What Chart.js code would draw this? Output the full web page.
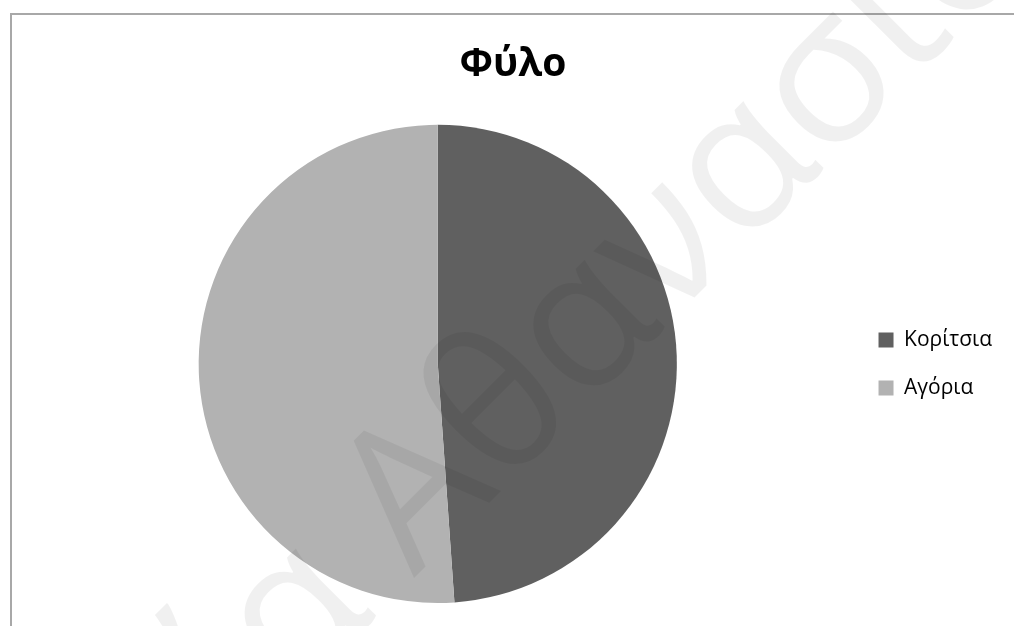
<!DOCTYPE html>
<html>
<head>
<meta charset="utf-8">
<script src="https://cdn.jsdelivr.net/npm/chart.js@4.4.1/dist/chart.umd.min.js"></script>
<style>
	html, body { margin:0; padding:0; background:#fff; overflow:hidden; }
	#frame { position:absolute; left:10px; top:13px; width:1100px; height:700px; border-top:2px solid #a8a8a8; border-left:2px solid #a8a8a8; box-sizing:border-box; }
	#chart { position:absolute; left:0; top:0; }
</style>
</head>
<body>
<div id="frame"></div>
<canvas id="chart" width="1014" height="626"></canvas>
<script>
var labels = ["Κορίτσια", "Αγόρια"];
var values = [22, 23];
var colors = ["#606060", "#b2b2b2"];

//	faint diagonal watermark that sits over the whole picture
var watermark =
	{
		id: 'watermark',
		afterDraw: function(chart)
		{
			var ctx = chart.ctx;
			ctx.save();
			ctx.translate( 414, 578 );
			ctx.rotate( -Math.PI / 4 );
			ctx.font = '195px "Open Sans"';
			ctx.fillStyle = "rgba(0,0,0,0.06)";
			ctx.textBaseline = "alphabetic";
			ctx.textAlign = "left";
			ctx.fillText( "Αθανασίου", 0, 0 );
			ctx.textAlign = "right";
			ctx.fillText( "ία ", 0, 0 );
			ctx.restore();
		}
	};

var chart = new Chart
(
	document.getElementById("chart").getContext("2d"),
	{
		type: "pie",
		data: {
			labels: labels,
			datasets: [ { data: values, backgroundColor: colors, borderWidth: 0 } ]
		},
		options: {
			responsive: false,
			animation: false,
			layout: { padding: { left: 24, right: 12, top: 0, bottom: 23 } },
			plugins: {
				tooltip: { enabled: false },
				title: {
					display: true,
					text: "Φύλο",
					color: "#000",
					font: { family: "Open Sans", size: 39, weight: "bold" },
					padding: { top: 41, bottom: 37 }
				},
				legend: {
					position: "right",
					fullSize: false,
					labels: {
						color: "#000",
						font: { family: "Open Sans", size: 21 },
						boxWidth: 15,
						boxHeight: 15,
						padding: 27
					}
				}
			}
		},
		plugins: [ watermark ]
	}
);
</script>
</body>
</html>
